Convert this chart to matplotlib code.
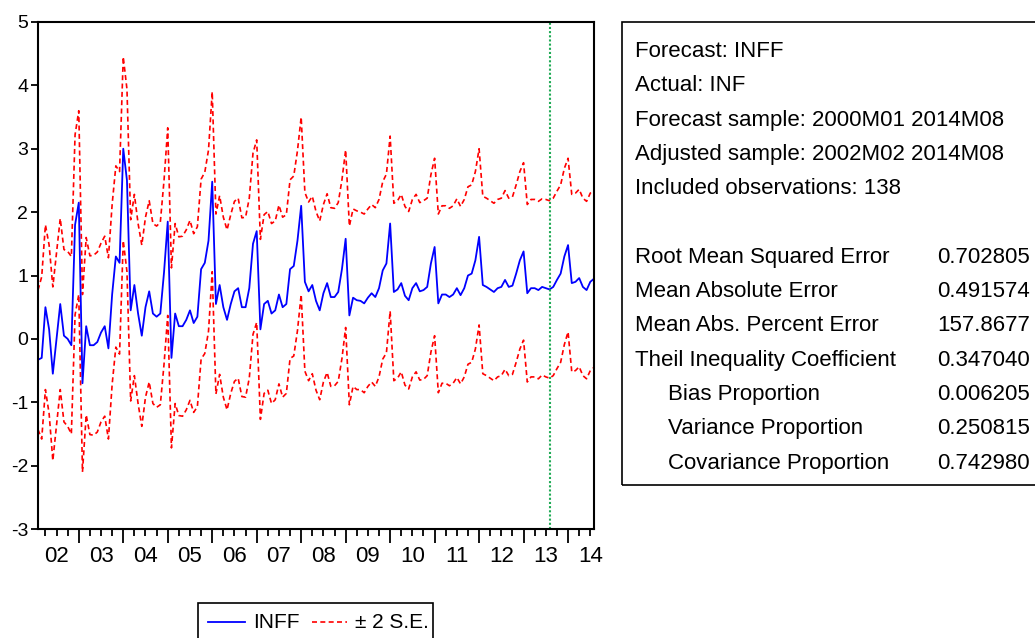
import numpy as np
import matplotlib
matplotlib.use('Agg')
import matplotlib.pyplot as plt
import matplotlib.transforms as mtransforms
from matplotlib import font_manager as fm
from matplotlib.patches import Rectangle
from matplotlib.lines import Line2D

W, H = 1035, 638

names = set(f.name for f in fm.fontManager.ttflist)
narrow = 'Liberation Sans Narrow' if 'Liberation Sans Narrow' in names else 'Liberation Sans'
plt.rcParams['font.family'] = ['Liberation Sans', 'DejaVu Sans']

# ---- data: monthly, 2002M02 .. 2014M08 ----
year_labels = ['02', '03', '04', '05', '06', '07', '08', '09', '10', '11', '12', '13', '14']

inff = [
    -0.33, -0.30, 0.50, 0.15, -0.55, 0.00, 0.55, 0.05, 0.00, -0.10, 1.80,        # 2002
    2.15, -0.70, 0.20, -0.10, -0.10, -0.05, 0.10, 0.20, -0.15, 0.70, 1.30, 1.20,  # 2003
    3.00, 2.50, 0.45, 0.85, 0.40, 0.05, 0.50, 0.75, 0.40, 0.35, 0.40, 1.05,       # 2004
    1.85, -0.30, 0.40, 0.20, 0.20, 0.30, 0.45, 0.25, 0.35, 1.10, 1.20, 1.55,      # 2005
    2.48, 0.55, 0.85, 0.50, 0.30, 0.55, 0.75, 0.80, 0.50, 0.50, 0.80, 1.50,       # 2006
    1.70, 0.15, 0.55, 0.60, 0.40, 0.45, 0.70, 0.50, 0.55, 1.10, 1.15, 1.55,       # 2007
    2.10, 0.90, 0.75, 0.85, 0.60, 0.45, 0.72, 0.88, 0.66, 0.66, 0.74, 1.10,       # 2008
    1.58, 0.37, 0.65, 0.61, 0.60, 0.56, 0.65, 0.72, 0.66, 0.80, 1.08, 1.19,       # 2009
    1.82, 0.74, 0.78, 0.88, 0.68, 0.61, 0.80, 0.88, 0.75, 0.77, 0.82, 1.19,       # 2010
    1.45, 0.56, 0.70, 0.70, 0.66, 0.70, 0.80, 0.69, 0.80, 1.00, 1.03, 1.24,       # 2011
    1.61, 0.85, 0.82, 0.78, 0.74, 0.80, 0.82, 0.93, 0.82, 0.84, 1.03, 1.24,       # 2012
    1.38, 0.72, 0.80, 0.80, 0.77, 0.82, 0.80, 0.78, 0.82, 0.93, 1.03, 1.30,       # 2013
    1.48, 0.88, 0.90, 0.96, 0.82, 0.77, 0.90, 0.95,                               # 2014
]

# 2 x S.E. (half width of the band)
band = [
    1.10, 1.28, 1.30, 1.33, 1.37, 1.36, 1.35, 1.36, 1.38, 1.40, 1.42,
    1.45, 1.40, 1.40, 1.41, 1.42, 1.42, 1.41, 1.42, 1.43, 1.42, 1.43, 1.44,
    1.45, 1.44, 1.43, 1.43, 1.42, 1.43, 1.42, 1.43, 1.42, 1.43, 1.44, 1.45,
    1.48, 1.42, 1.42, 1.41, 1.42, 1.42, 1.42, 1.41, 1.42, 1.42, 1.43, 1.43,
    1.42, 1.42, 1.41, 1.42, 1.42, 1.41, 1.42, 1.42, 1.41, 1.42, 1.42, 1.43,
    1.44, 1.42, 1.41, 1.41, 1.42, 1.41, 1.41, 1.42, 1.41, 1.41, 1.42, 1.42,
    1.40, 1.41, 1.41, 1.40, 1.41, 1.41, 1.40, 1.41, 1.41, 1.40, 1.41, 1.41,
    1.40, 1.41, 1.40, 1.41, 1.40, 1.41, 1.40, 1.40, 1.41, 1.40, 1.40, 1.41,
    1.38, 1.40, 1.40, 1.40, 1.41, 1.40, 1.40, 1.40, 1.40, 1.41, 1.40, 1.40,
    1.40, 1.41, 1.40, 1.40, 1.40, 1.40, 1.41, 1.40, 1.40, 1.40, 1.40, 1.40,
    1.39, 1.40, 1.40, 1.40, 1.40, 1.40, 1.40, 1.41, 1.40, 1.40, 1.40, 1.40,
    1.40, 1.40, 1.40, 1.40, 1.40, 1.39, 1.40, 1.40, 1.40, 1.40, 1.40, 1.39,
    1.37, 1.40, 1.40, 1.40, 1.40, 1.40, 1.40, 1.40,
]

split_index = 138  # 2013M08

header_lines = ['Forecast: INFF', 'Actual: INF', 'Forecast sample: 2000M01 2014M08',
                'Adjusted sample: 2002M02 2014M08', 'Included observations: 138']
stat_names = ['Root Mean Squared Error', 'Mean Absolute Error', 'Mean Abs. Percent Error',
              'Theil Inequality Coefficient', 'Bias Proportion', 'Variance Proportion',
              'Covariance Proportion']
stat_values = ['0.702805', '0.491574', '157.8677', '0.347040', '0.006205', '0.250815', '0.742980']
stat_indent = [0, 0, 0, 0, 1, 1, 1]


def fx(px):
    return px / W


def fy(py):
    return 1 - py / H


fig = plt.figure(figsize=(W / 100, H / 100), dpi=100)
ax = fig.add_axes([fx(38), fy(529), (594 - 38) / W, (529 - 22) / H])

x = np.arange(len(inff))
inff = np.array(inff)
band = np.array(band)

ax.plot(x, inff + band, color='#ff0000', lw=1.2, ls=(0, (3, 2)))
ax.plot(x, inff - band, color='#ff0000', lw=1.2, ls=(0, (3, 2)))
ax.plot(x, inff, color='#0000ff', lw=1.3)
ax.axvline(split_index, color='#1faa55', lw=1.5, ls=(0, (1, 1)))

ax.set_xlim(0, len(inff) - 1)
ax.set_ylim(-3, 5)
ax.set_yticks(range(-3, 6))
ax.set_yticklabels([str(v) for v in range(-3, 6)], fontsize=14, family=[narrow, 'DejaVu Sans'])

# year starts are major ticks, quarters minor ticks, labels at mid-year
year_starts = [(y - 2002) * 12 - 1 for y in range(2003, 2015)]
quarters = [i for i in range(2, len(inff), 3) if i not in year_starts]
ax.set_xticks(year_starts)
ax.set_xticklabels([])
ax.set_xticks(quarters, minor=True)
ax.tick_params(axis='x', which='major', direction='out', length=10, width=1.3)
ax.tick_params(axis='x', which='minor', direction='out', length=5, width=1.3)
ax.tick_params(axis='y', direction='out', length=5, width=1.3, pad=2)
for s in ax.spines.values():
    s.set_linewidth(1.5)

trans = mtransforms.blended_transform_factory(ax.transData, ax.transAxes)
for k, lab in enumerate(year_labels):
    ax.text(k * 12 + 5, -27 / 507, lab, transform=trans, ha='center', va='center',
            fontsize=16, family=[narrow, 'DejaVu Sans'])

# legend box at the bottom
fig.add_artist(Rectangle((fx(198), fy(645)), (433 - 198) / W, (645 - 603) / H,
                         transform=fig.transFigure, fill=False, ec='black', lw=1.2))
fig.add_artist(Line2D([fx(208), fx(245)], [fy(622), fy(622)], transform=fig.transFigure,
                      color='#0000ff', lw=1.3))
fig.text(fx(253), fy(622), 'INFF', va='center', fontsize=15, family=[narrow, 'DejaVu Sans'])
fig.add_artist(Line2D([fx(312), fx(347)], [fy(622), fy(622)], transform=fig.transFigure,
                      color='#ff0000', lw=1.2, ls=(0, (3, 2))))
fig.text(fx(355), fy(622), '\u00b1 2 S.E.', va='center', fontsize=15, family=[narrow, 'DejaVu Sans'])

# statistics panel
fig.add_artist(Rectangle((fx(622), fy(485)), 0.5, (485 - 22) / H,
                         transform=fig.transFigure, fill=False, ec='black', lw=1.2))
row_h = 34.3
for k, line in enumerate(header_lines):
    fig.text(fx(635), fy(51.5 + k * row_h), line, va='center', fontsize=16)
for k, (nm, val, ind) in enumerate(zip(stat_names, stat_values, stat_indent)):
    yy = fy(51.5 + (k + 6) * row_h)
    fig.text(fx(635 + 33 * ind), yy, nm, va='center', fontsize=16)
    fig.text(fx(937), yy, val, va='center', fontsize=16)

fig.savefig('out.png', dpi=100)
